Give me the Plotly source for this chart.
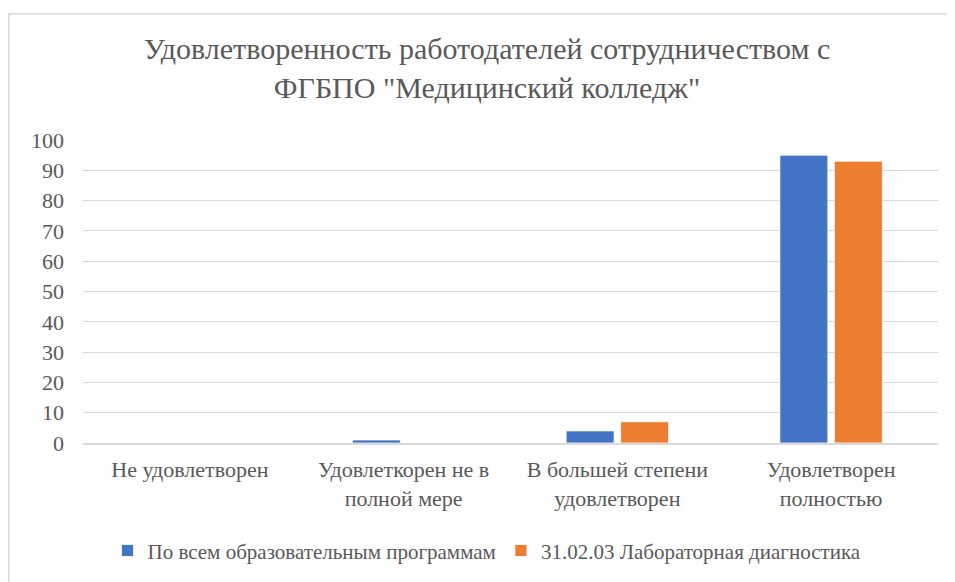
import plotly.graph_objects as go

categories = ["Не удовлетворен", "Удовлеткорен не в<br>полной мере",
              "В большей степени<br>удовлетворен", "Удовлетворен<br>полностью"]
series_names = ["По всем образовательным программам", "31.02.03 Лабораторная диагностика"]
values_all = [0, 1, 4, 95]
values_lab = [0, 0, 7, 93]
colors = ["#4472C4", "#ED7D31"]
y_ticks = [0, 10, 20, 30, 40, 50, 60, 70, 80, 90, 100]

# page body has an 8px default margin; work in screen pixels and convert
OFF = 8
W, H = 955 - OFF, 582 - OFF
ML, MR, MT, MB = 83 - OFF, 17, 139.5 - OFF, 138
pw = W - ML - MR
ph = H - MT - MB

FONT = "Liberation Serif, Times New Roman, serif"
GREY = "#595959"

fig = go.Figure()
for name, vals, col in zip(series_names, [values_all, values_lab], colors):
    fig.add_trace(go.Bar(
        x=categories, y=vals, name=name,
        marker=dict(color=col, line=dict(color="white", width=0.8)),
    ))

def px2paper_x(px):
    return (px - OFF - ML) / pw

def px2paper_y(py):
    return (H - MB - (py - OFF)) / ph

fig.add_shape(type="rect", xref="paper", yref="paper",
              x0=px2paper_x(8.8), x1=px2paper_x(975),
              y0=px2paper_y(600), y1=px2paper_y(12.5),
              line=dict(color="#d9d9d9", width=1.5), fillcolor="rgba(0,0,0,0)", layer="below")

fig.update_layout(
    width=W, height=H,
    margin=dict(l=ML, r=MR, t=MT, b=MB),
    paper_bgcolor="white", plot_bgcolor="white",
    barmode="group", bargap=0.49, bargroupgap=0.12,
    font=dict(family=FONT, color=GREY, size=22),
    title=dict(text="Удовлетворенность работодателей сотрудничеством с<br>ФГБПО \"Медицинский колледж\"",
               x=px2paper_x(487), xref="paper", xanchor="center",
               y=1 - (59 - OFF) / H, yref="container", yanchor="top",
               font=dict(family=FONT, size=30, color=GREY)),
    xaxis=dict(showgrid=False, showline=True, linecolor="#d9d9d9", linewidth=1.5,
               ticks="", tickfont=dict(family=FONT, size=22, color=GREY), ticklabelstandoff=6),
    yaxis=dict(range=[0, 100], tickvals=y_ticks, showgrid=True, gridcolor="#d9d9d9",
               gridwidth=1, zeroline=False, showline=False, ticks="",
               tickfont=dict(family=FONT, size=22, color=GREY), ticklabelstandoff=18),
    legend=dict(orientation="h", x=px2paper_x(487), xanchor="center",
                y=px2paper_y(551), yanchor="middle",
                font=dict(family=FONT, size=21, color=GREY), itemwidth=30, traceorder="normal"),
    showlegend=True,
)

fig.write_html("out.html")
